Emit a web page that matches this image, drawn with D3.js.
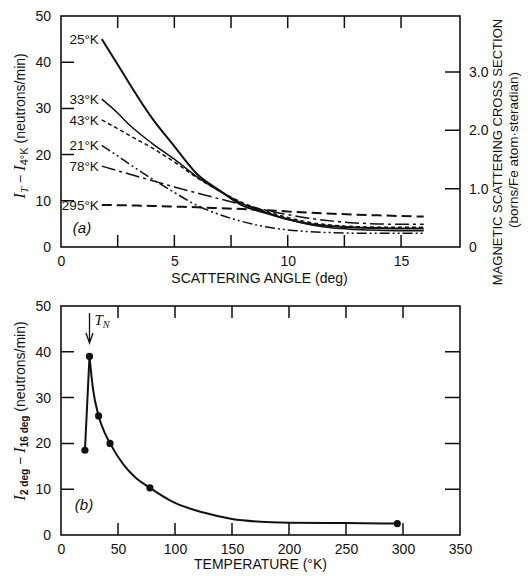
<!DOCTYPE html>
<html>
<head>
<meta charset="utf-8">
<script src="https://cdn.jsdelivr.net/npm/d3@7"></script>
<style>
  body { margin: 0; background: #fff; }
  text { font-family: "Liberation Sans", Arial, sans-serif; fill: #111; }
  .tick text { font-size: 14px; }
  .domain { display: none; }
</style>
</head>
<body>
<div id="chart"></div>
<script>
// ---- panel (a): intensity vs scattering angle ----
const angles = [1.8, 2.5, 3, 4, 5, 6, 7, 8, 9, 10, 11, 12, 13, 14, 15, 16];
const series25K  = [45, 39.5, 35.5, 28, 21.8, 15.8, 12.2, 9.0, 7.4, 6.0, 5.0, 4.5, 4.2, 4.1, 4.0, 4.0];
const series33K  = [32, 29, 26.5, 22.5, 19, 15.2, 12.1, 9.4, 7.6, 6.0, 4.8, 4.1, 3.8, 3.6, 3.5, 3.5];
const series43K  = [27.5, 25.6, 24.2, 21.5, 18.4, 15.0, 12.1, 9.6, 7.8, 6.4, 5.3, 4.7, 4.4, 4.3, 4.3, 4.3];
const series21K  = [22, 19.7, 18, 14.8, 11.8, 9.0, 7.0, 5.5, 4.4, 3.7, 3.3, 3.1, 3.0, 3.0, 3.0, 3.0];
const series78K  = [17.5, 16.5, 15.8, 14.4, 13.0, 11.7, 10.4, 9.2, 8.0, 7.0, 6.2, 5.6, 5.2, 5.0, 4.9, 4.9];
const series295K = [9.1, 9.05, 9.0, 8.9, 8.75, 8.6, 8.4, 8.2, 7.95, 7.7, 7.45, 7.2, 7.0, 6.85, 6.7, 6.6];
const seriesNames = ["25°K", "33°K", "43°K", "21°K", "78°K", "295°K"];
const angleTicks = [2.5, 5, 7.5, 10, 12.5, 15];
const angleLabels = [0, 5, 10, 15];
const intensityTicks = [0, 10, 20, 30, 40, 50];
const crossSectionTicks = [0, 1, 2, 3];

// ---- panel (b): intensity difference vs temperature ----
const tempMeasured = [21, 25, 33, 43, 78, 295];
const diffMeasured = [18.5, 39, 26, 20, 10.3, 2.5];
const tempCurve = [25, 28, 33, 38, 43, 55, 65, 78, 100, 125, 150, 175, 200, 250, 295];
const diffCurve = [39, 32, 26, 22.5, 20, 15.3, 12.6, 10.3, 7.0, 4.9, 3.5, 2.9, 2.7, 2.6, 2.5];
const tempTicks = [0, 50, 100, 150, 200, 250, 300, 350];
const neelTemp = 25;

const width = 528, height = 576;
const svg = d3.select("#chart").append("svg")
    .attr("width", width)
    .attr("height", height);

// line styles for each series (same order as seriesNames)
const styles = [
  {w: 2.0, dash: null},
  {w: 1.5, dash: null},
  {w: 1.5, dash: "4,3"},
  {w: 1.5, dash: "10,3,2,3,2,3"},
  {w: 1.5, dash: "14,4,3,4"},
  {w: 2.0, dash: "10,5"}
];

// inward tick marks, drawn as one path per side
function innerTicks(scale, values, side, pos, len) {
  let d = values.map(v => {
    let p = scale(v);
    if (side === "bottom") return `M${p},${pos}V${pos - len}`;
    if (side === "top") return `M${p},${pos}V${pos + len}`;
    if (side === "left") return `M${pos},${p}H${pos + len}`;
    return `M${pos},${p}H${pos - len}`;
  }).join("");
  svg.append("path")
    .attr("d", d)
    .attr("fill", "none")
    .attr("stroke", "#111")
    .attr("stroke-width", 1.5);
}

// ================= panel (a) =================
const a = {left: 61, right: 460, top: 16, bottom: 247};
let xA = d3.scaleLinear().domain([0, 17.6]).range([a.left, a.right]);
let yA = d3.scaleLinear().domain([0, 50]).range([a.bottom, a.top]);
let yA2 = d3.scaleLinear().domain([0, 3.96]).range([a.bottom, a.top]);

svg.append("g")
    .attr("transform", "translate(0," + a.bottom + ")")
    .call(d3.axisBottom(xA).tickValues(angleLabels).tickSize(0).tickPadding(9));
svg.append("g")
    .attr("transform", "translate(" + a.left + ",0)")
    .call(d3.axisLeft(yA).tickValues(intensityTicks).tickSize(0).tickPadding(10));
svg.append("g")
    .attr("transform", "translate(" + a.right + ",0)")
    .call(d3.axisRight(yA2).tickValues(crossSectionTicks).tickSize(0).tickPadding(9)
        .tickFormat(d => d === 0 ? "0" : d.toFixed(1)));

innerTicks(xA, angleTicks, "bottom", a.bottom, 12);
innerTicks(xA, angleTicks, "top", a.top, 12);
innerTicks(yA, intensityTicks.slice(1, -1), "left", a.left, 13);
innerTicks(yA2, crossSectionTicks.slice(1), "right", a.right, 15);

svg.append("rect")
    .attr("x", a.left).attr("y", a.top)
    .attr("width", a.right - a.left).attr("height", a.bottom - a.top)
    .attr("fill", "none").attr("stroke", "#111").attr("stroke-width", 1.6);

let allSeries = [series25K, series33K, series43K, series21K, series78K, series295K];
let lineA = d3.line()
    .x(d => xA(d[0]))
    .y(d => yA(d[1]))
    .curve(d3.curveMonotoneX);

allSeries.forEach((vals, i) => {
  let pts = angles.map((ang, j) => [ang, vals[j]]);
  svg.append("path")
      .datum(pts)
      .attr("d", lineA)
      .attr("fill", "none")
      .attr("stroke", "#111")
      .attr("stroke-width", styles[i].w)
      .attr("stroke-dasharray", styles[i].dash);
  // label sits just left of the curve start
  svg.append("text")
      .attr("x", xA(angles[0]) - 3)
      .attr("y", yA(vals[0]) + 5)
      .attr("text-anchor", "end")
      .style("font-size", "13.5px")
      .text(seriesNames[i]);
});

svg.append("text")
    .attr("x", 82).attr("y", 233)
    .attr("text-anchor", "middle")
    .style("font-size", "15px").style("font-style", "italic")
    .text("(a)");

svg.append("text")
    .attr("x", (a.left + a.right) / 2 - 1).attr("y", 283)
    .attr("text-anchor", "middle")
    .style("font-size", "14px")
    .text("SCATTERING ANGLE (deg)");

// left label panel (a)
let labA = svg.append("text")
    .attr("transform", "translate(25," + 126 + ") rotate(-90)")
    .attr("text-anchor", "middle")
    .style("font-size", "14px");
labA.append("tspan").style("font-family", "Liberation Serif").style("font-style", "italic").style("font-size", "17px").text("I");
labA.append("tspan").style("font-family", "Liberation Serif").style("font-style", "italic").attr("baseline-shift", "-25%").style("font-size", "11px").text("T");
labA.append("tspan").text(" − ");
labA.append("tspan").style("font-family", "Liberation Serif").style("font-style", "italic").style("font-size", "17px").text("I");
labA.append("tspan").attr("baseline-shift", "-25%").style("font-size", "11px").text("4°K");
labA.append("tspan").text(" (neutrons/min)");

// right label panel (a)
svg.append("text")
    .attr("transform", "translate(502,152) rotate(-90)")
    .attr("text-anchor", "middle")
    .style("font-size", "13px")
    .text("MAGNETIC SCATTERING CROSS SECTION");
svg.append("text")
    .attr("transform", "translate(518,150) rotate(-90)")
    .attr("text-anchor", "middle")
    .style("font-size", "13.5px")
    .text("(borns/Fe atom·steradian)");

// ================= panel (b) =================
const b = {left: 61, right: 460, top: 306, bottom: 535};
let xB = d3.scaleLinear().domain([0, 350]).range([b.left, b.right]);
let yB = d3.scaleLinear().domain([0, 50]).range([b.bottom, b.top]);

svg.append("g")
    .attr("transform", "translate(0," + b.bottom + ")")
    .call(d3.axisBottom(xB).tickValues(tempTicks).tickSize(0).tickPadding(9));
svg.append("g")
    .attr("transform", "translate(" + b.left + ",0)")
    .call(d3.axisLeft(yB).tickValues(intensityTicks).tickSize(0).tickPadding(10));

innerTicks(xB, tempTicks.slice(1, -1), "bottom", b.bottom, 12);
innerTicks(xB, tempTicks.slice(1, -1), "top", b.top, 12);
innerTicks(yB, intensityTicks.slice(1, -1), "left", b.left, 13);
innerTicks(yB, intensityTicks.slice(1, -1), "right", b.right, 15);

svg.append("rect")
    .attr("x", b.left).attr("y", b.top)
    .attr("width", b.right - b.left).attr("height", b.bottom - b.top)
    .attr("fill", "none").attr("stroke", "#111").attr("stroke-width", 1.6);

let lineB = d3.line().x(d => xB(d[0])).y(d => yB(d[1]));
// straight rise from 21 to 25 K
svg.append("path")
    .datum([[tempMeasured[0], diffMeasured[0]], [tempMeasured[1], diffMeasured[1]]])
    .attr("d", lineB)
    .attr("fill", "none").attr("stroke", "#111").attr("stroke-width", 2);
svg.append("path")
    .datum(tempCurve.map((t, i) => [t, diffCurve[i]]))
    .attr("d", lineB.curve(d3.curveMonotoneX))
    .attr("fill", "none").attr("stroke", "#111").attr("stroke-width", 2);

svg.selectAll(".pt")
    .data(tempMeasured.map((t, i) => [t, diffMeasured[i]]))
    .join("circle")
    .attr("class", "pt")
    .attr("cx", d => xB(d[0]))
    .attr("cy", d => yB(d[1]))
    .attr("r", 3.6)
    .attr("fill", "#111");

// T_N arrow
let ax = xB(neelTemp);
svg.append("line")
    .attr("x1", ax).attr("x2", ax)
    .attr("y1", 313).attr("y2", 341)
    .attr("stroke", "#111").attr("stroke-width", 1.3);
svg.append("path")
    .attr("d", `M${ax - 3.5},${333} L${ax},${343} L${ax + 3.5},${333}`)
    .attr("fill", "none").attr("stroke", "#111").attr("stroke-width", 1.3);
let tn = svg.append("text")
    .attr("x", ax + 5).attr("y", 325)
    .style("font-family", "Liberation Serif").style("font-style", "italic")
    .style("font-size", "15px");
tn.append("tspan").text("T");
tn.append("tspan").attr("baseline-shift", "-30%").style("font-size", "10px").text("N");

svg.append("text")
    .attr("x", 84).attr("y", 510)
    .attr("text-anchor", "middle")
    .style("font-size", "15px").style("font-style", "italic")
    .text("(b)");

svg.append("text")
    .attr("x", (b.left + b.right) / 2).attr("y", 569)
    .attr("text-anchor", "middle")
    .style("font-size", "14px")
    .text("TEMPERATURE (°K)");

// left label panel (b)
let labB = svg.append("text")
    .attr("transform", "translate(25," + 411 + ") rotate(-90)")
    .attr("text-anchor", "middle")
    .style("font-size", "14px");
labB.append("tspan").style("font-family", "Liberation Serif").style("font-style", "italic").style("font-size", "17px").text("I");
labB.append("tspan").attr("baseline-shift", "-25%").style("font-size", "10px").style("font-weight", "bold").text("2 deg");
labB.append("tspan").text(" − ");
labB.append("tspan").style("font-family", "Liberation Serif").style("font-style", "italic").style("font-size", "17px").text("I");
labB.append("tspan").attr("baseline-shift", "-25%").style("font-size", "10px").style("font-weight", "bold").text("16 deg");
labB.append("tspan").text(" (neutrons/min)");
</script>
</body>
</html>
